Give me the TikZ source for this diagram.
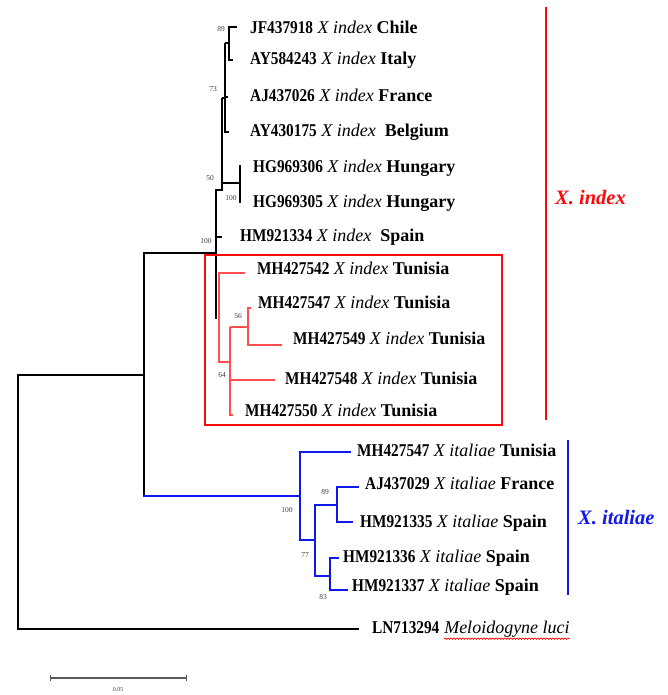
\documentclass[tikz,border=0pt]{standalone}
\usepackage{graphicx}
\usepackage{fontspec}
\setmainfont{Liberation Serif}
\usetikzlibrary{positioning,calc,decorations.pathmorphing}
\definecolor{cladered}{RGB}{250,10,10}
\definecolor{branchred}{RGB}{255,80,80}
\definecolor{cladeblue}{RGB}{15,25,235}
\definecolor{bootgray}{RGB}{60,60,60}
\newcommand{\acc}[1]{\scalebox{0.85}[1]{\bfseries #1}}
\newcommand{\taxon}[3]{\acc{#1} \textit{#2} \textbf{#3}}
\tikzset{
  blk/.style={line width=2.4pt,line cap=rect},
  thn/.style={line width=1.5pt},
  redbr/.style={branchred,line width=1.4pt},
  bluebr/.style={cladeblue,line width=2.6pt,line cap=rect},
  leaf/.style={anchor=west,inner sep=0pt,text height=13pt,text depth=4pt,font=\fontsize{18}{19}\selectfont},
  boot/.style={inner sep=0pt,font=\fontsize{7.5}{8}\selectfont,text=bootgray},
  clade/.style={anchor=west,inner sep=0pt,font=\fontsize{20.5}{21}\selectfont\bfseries\itshape}
}
\begin{document}
\begin{tikzpicture}[x=1pt,y=-1pt]
  \useasboundingbox (0,0) rectangle (668,695);
  % backbone
  \coordinate (root) at (18,375);
  \coordinate (ing) at (144,375);
  \coordinate (tLNc) at (358,629);
  \coordinate (idxa) at (216,253);
  \coordinate (itaa) at (300,496);
  \draw[blk] (root) |- (tLNc);
  \draw[blk] (root) -- (ing);
  \draw[blk] (idxa) -| (ing) -- (ing |- itaa);
  \draw[bluebr] (ing |- itaa) -- (itaa);
  % X. index, old records
  \coordinate (idxt) at (216,190);
  \coordinate (idxb) at (216,318);
  \coordinate (n50t) at (222,98);
  \coordinate (n50b) at (222,190);
  \coordinate (hungt) at (240,165);
  \coordinate (hungm) at (240,183);
  \coordinate (hungb) at (240,203);
  \coordinate (n73t) at (225,43);
  \coordinate (n73b) at (225,132);
  \coordinate (n89t) at (229,27);
  \coordinate (n89b) at (229,60);
  \coordinate (tJF) at (237,27);
  \coordinate (tAY5) at (233,60);
  \coordinate (tAJ6) at (228,97);
  \coordinate (tAY1) at (229,132);
  \coordinate (tHM4) at (222,237);
  \draw[blk] (idxt) -- (idxb);
  \draw[thn] (idxt) -- (n50b) -- (n50t);
  \draw[thn] (n50b |- hungm) -- (hungm);
  \draw[thn] (hungt) -- (hungb);
  \draw[thn] (n50t) -- (n73t |- n50t);
  \draw[thn] (n73t) -- (n73b) -- (tAY1);
  \draw[thn] (n73t |- tAJ6) -- (tAJ6);
  \draw[thn] (n73t) -- (n89t |- n73t);
  \draw[thn] (tJF) -- (n89t) -- (n89b) -- (tAY5);
  \draw[thn] (idxt |- tHM4) -- (tHM4);
  % X. index, Tunisia
  \coordinate (tunt) at (219,273);
  \coordinate (tunb) at (219,362);
  \coordinate (n64t) at (230,327);
  \coordinate (n64b) at (230,415);
  \coordinate (n56t) at (248,308);
  \coordinate (n56b) at (248,345);
  \coordinate (tMH2) at (245,273);
  \coordinate (tMH7) at (251,308);
  \coordinate (tMH9) at (282,345);
  \coordinate (tMH8) at (275,380);
  \coordinate (tMH0) at (233,415);
  \draw[redbr] (tMH2) -- (tunt) -- (tunb) -- (n64t |- tunb);
  \draw[redbr] (n64t) -- (n64b) -- (tMH0);
  \draw[redbr] (n64t) -- (n56t |- n64t);
  \draw[redbr] (tMH7) -- (n56t) -- (n56b) -- (tMH9);
  \draw[redbr] (n64t |- tMH8) -- (tMH8);
  % X. italiae
  \coordinate (itat) at (300,452);
  \coordinate (itab) at (300,540);
  \coordinate (n77t) at (315,505);
  \coordinate (n77b) at (315,576);
  \coordinate (n89it) at (337,487);
  \coordinate (n89ib) at (337,522);
  \coordinate (n83t) at (330,558);
  \coordinate (n83b) at (330,590);
  \coordinate (tMH7i) at (350,452);
  \coordinate (tAJ9) at (358,487);
  \coordinate (tHM5) at (352,522);
  \coordinate (tHM6) at (338,558);
  \coordinate (tHM7) at (347,590);
  \draw[bluebr] (tMH7i) -- (itat) -- (itab) -- (n77t |- itab);
  \draw[bluebr] (n77t) -- (n77b) -- (n83t |- n77b);
  \draw[bluebr] (n77t) -- (n89it |- n77t);
  \draw[bluebr] (tAJ9) -- (n89it) -- (n89ib) -- (tHM5);
  \draw[bluebr] (tHM6) -- (n83t) -- (n83b) -- (tHM7);
  % tip labels
  \node[leaf] (lJF) at (250,29) {\taxon{JF437918}{X index}{Chile}};
  \node[leaf] (lAY5) at (250,60) {\taxon{AY584243}{X index}{Italy}};
  \node[leaf] (lAJ6) at (250,97) {\taxon{AJ437026}{X index}{France}};
  \node[leaf] (lAY1) at (250,132) {\taxon{AY430175}{X index}{\ Belgium}};
  \node[leaf] (lHG6) at (253,168) {\taxon{HG969306}{X index}{Hungary}};
  \node[leaf] (lHG5) at (253,203) {\taxon{HG969305}{X index}{Hungary}};
  \node[leaf] (lHM4) at (240,237) {\taxon{HM921334}{X index}{\ Spain}};
  \node[leaf] (lMH2) at (257,270) {\taxon{MH427542}{X index}{Tunisia}};
  \node[leaf] (lMH7) at (258,304) {\taxon{MH427547}{X index}{Tunisia}};
  \node[leaf] (lMH9) at (293,340) {\taxon{MH427549}{X index}{Tunisia}};
  \node[leaf] (lMH8) at (285,380) {\taxon{MH427548}{X index}{Tunisia}};
  \node[leaf] (lMH0) at (245,412) {\taxon{MH427550}{X index}{Tunisia}};
  \node[leaf] (lMH7i) at (357,452) {\taxon{MH427547}{X italiae}{Tunisia}};
  \node[leaf] (lAJ9) at (365,485) {\taxon{AJ437029}{X italiae}{France}};
  \node[leaf] (lHM5) at (360,523) {\taxon{HM921335}{X italiae}{Spain}};
  \node[leaf] (lHM6) at (343,558) {\taxon{HM921336}{X italiae}{Spain}};
  \node[leaf] (lHM7) at (352,587) {\taxon{HM921337}{X italiae}{Spain}};
  \node[leaf] (lLN) at (372,629) {\acc{LN713294}};
  \node[leaf,right=4.5pt of lLN.east,anchor=west] (lMel) {\textit{Meloidogyne luci}};
  \draw[red,line width=0.7pt,decorate,decoration={snake,amplitude=0.7pt,segment length=3pt}]
    ([yshift=-1pt]lMel.south west) -- ([yshift=-1pt]lMel.south east);
  % bootstrap values
  \node[boot] (b89) at (221,29) {89};
  \node[boot] (b73) at (213,89) {73};
  \node[boot] (b50) at (210,178) {50};
  \node[boot] (b100h) at (231,198) {100};
  \node[boot] (b100i) at (206,241) {100};
  \node[boot] (b56) at (238,316) {56};
  \node[boot] (b64) at (222,375) {64};
  \node[boot] (b100t) at (287,510) {100};
  \node[boot] (b89i) at (325,492) {89};
  \node[boot] (b77) at (305,555) {77};
  \node[boot] (b83) at (323,597) {83};
  % Tunisian box and clade bars
  \draw[cladered,line width=2.2pt] (205,255) rectangle (502,425);
  \coordinate (rbt) at (546,7);
  \coordinate (rbb) at (546,420);
  \draw[cladered,line width=2.4pt] (rbt) -- (rbb);
  \node[clade,text=cladered] (cidx) at (555,198) {X. index};
  \coordinate (bbt) at (568,440);
  \coordinate (bbb) at (568,595);
  \draw[cladeblue,line width=2.4pt] (bbt) -- (bbb);
  \node[clade,text=cladeblue] (cita) at (578,518) {X. italiae};
  % scale bar
  \coordinate (sbl) at (50,678);
  \coordinate (sbr) at (186,678);
  \draw[gray!70!black,line width=1.2pt] (sbl) -- (sbr);
  \draw[gray!70!black,line width=1pt] ([yshift=-3pt]sbl) -- ([yshift=3pt]sbl);
  \draw[gray!70!black,line width=1pt] ([yshift=-3pt]sbr) -- ([yshift=3pt]sbr);
  \node[boot,font=\fontsize{6}{7}\selectfont] (sbn) at (118,690) {0.05};
\end{tikzpicture}
\end{document}
